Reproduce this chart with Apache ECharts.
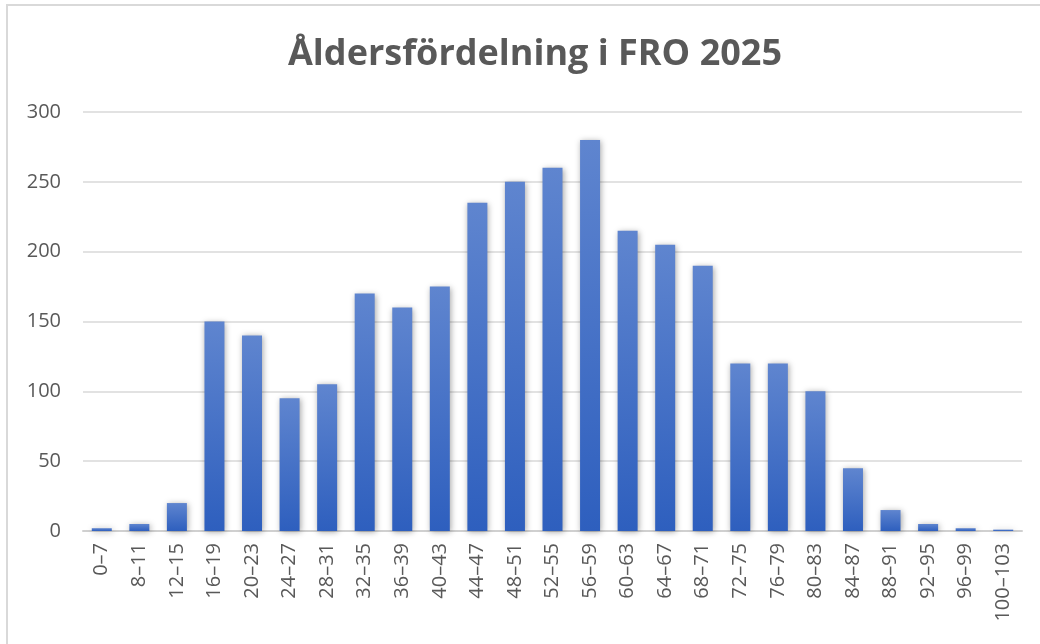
<!DOCTYPE html>
<html>
<head>
<meta charset="utf-8">
<script src="https://cdn.jsdelivr.net/npm/echarts@6/dist/echarts.min.js"></script>
<style>
  html, body { margin: 0; padding: 0; background: #fff; }
  #frame { position: absolute; left: 6px; top: 4px; width: 1040px; height: 644px; border-left: 2px solid #d9d9d9; border-top: 2px solid #d9d9d9; box-sizing: border-box; }
  #Chart { position: absolute; left: 0; top: 0; width: 1040px; height: 644px; }
</style>
</head>
<body>
<div id="frame"></div>
<div id="Chart"></div>
<script>
const ageGroups = [ "0–7", "8–11", "12–15", "16–19", "20–23", "24–27", "28–31", "32–35", "36–39", "40–43",
  "44–47", "48–51", "52–55", "56–59", "60–63", "64–67", "68–71", "72–75", "76–79", "80–83",
  "84–87", "88–91", "92–95", "96–99", "100–103" ]
const counts = [ 2, 5, 20, 150, 140, 95, 105, 170, 160, 175,
  235, 250, 260, 280, 215, 205, 190, 120, 120, 100,
  45, 15, 5, 2, 1 ]

const chart = echarts.init(document.getElementById("Chart"), null, { renderer: "canvas" })
const option = {
  animation: false,
  textStyle: { fontFamily: "\"Open Sans\", sans-serif" },
  title: {
    text: "Åldersfördelning i FRO 2025",
    left: 530,
    textAlign: "center",
    top: 32,
    textStyle: { fontSize: 36, fontWeight: "bold", color: "#595959", fontFamily: "\"Open Sans\", sans-serif" }
  },
  grid: { left: 83, right: 18, top: 112, bottom: 113 },
  xAxis: {
    type: "category",
    data: ageGroups,
    axisLine: { lineStyle: { color: "#d0d0d0", width: 2 } },
    axisTick: { show: false },
    axisLabel: { rotate: 90, color: "#595959", fontSize: 20, margin: 12, interval: 0 }
  },
  yAxis: {
    type: "value",
    min: 0,
    max: 300,
    interval: 50,
    axisLine: { show: false },
    axisTick: { show: false },
    splitLine: { lineStyle: { color: "#d9d9d9", width: 1.5 } },
    axisLabel: { color: "#595959", fontSize: 20, margin: 22 }
  },
  series: [
    {
      type: "bar",
      data: counts,
      barWidth: 20,
      itemStyle: {
        color: new echarts.graphic.LinearGradient(0, 0, 0, 1, [
          { offset: 0, color: "#5f85cf" },
          { offset: 1, color: "#2e5fbe" }
        ]),
        shadowColor: "rgba(0,0,0,0.35)",
        shadowBlur: 6,
        shadowOffsetX: 1,
        shadowOffsetY: 1
      }
    }
  ]
}
chart.setOption(option)
</script>
</body>
</html>
